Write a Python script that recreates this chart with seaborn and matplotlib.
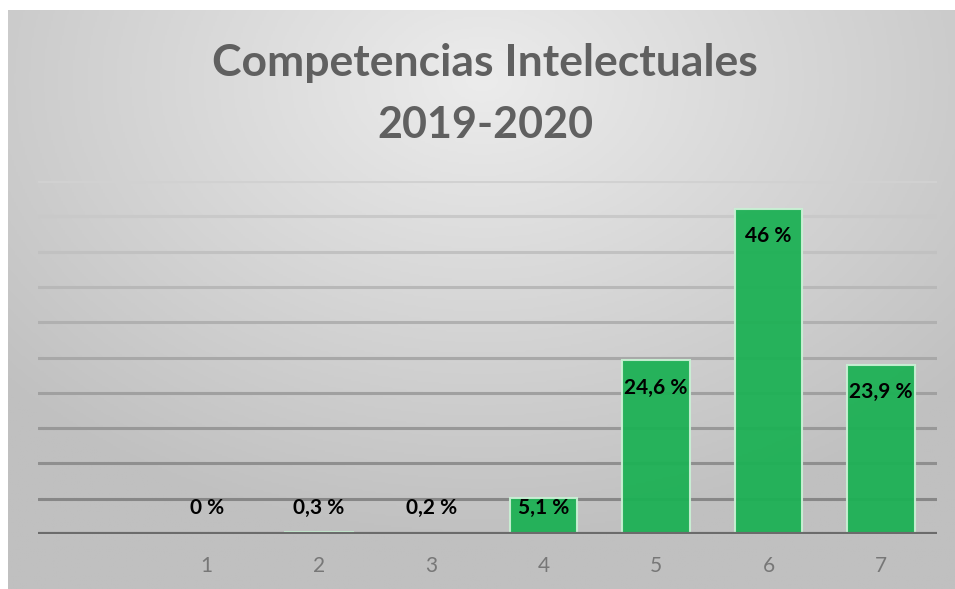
import numpy as np
import pandas as pd
import seaborn as sns
import matplotlib.pyplot as plt
from matplotlib.colors import LinearSegmentedColormap

# data
categorias = ["", "1", "2", "3", "4", "5", "6", "7"]
porcentajes = [np.nan, 0, 0.3, 0.2, 5.1, 24.6, 46, 23.9]
etiquetas = ["", "0 %", "0,3 %", "0,2 %", "5,1 %", "24,6 %", "46 %", "23,9 %"]
lineas_y = [5, 10, 15, 20, 25, 30, 35, 40, 45, 50]

df = pd.DataFrame({"cat": categorias, "pct": porcentajes})

sns.set_style("white")
plt.rcParams["font.family"] = ["Lato", "DejaVu Sans"]

fig = plt.figure(figsize=(9.55, 5.89), dpi=100)
fig.patch.set_facecolor("white")

# fondo con degradado radial
bg = fig.add_axes([8 / 955, 0, 947 / 955, 579 / 589])
yy, xx = np.mgrid[0:1:300j, 0:1:500j]
r = np.sqrt(((xx - 0.5) / 0.85) ** 2 + ((yy - 0.12) / 1.0) ** 2)
cmap_bg = LinearSegmentedColormap.from_list("bg", ["#ececec", "#d6d6d6", "#c0c0c0"])
bg.imshow(r, cmap=cmap_bg, aspect="auto", extent=[0, 1, 1, 0], vmin=0, vmax=0.8)
bg.axis("off")

ax = fig.add_axes([38 / 955, (589 - 534) / 589, 899 / 955, 353 / 589])
ax.patch.set_alpha(0)

# lineas de cuadricula, mas oscuras hacia abajo
for i, v in enumerate(lineas_y):
    t = i / (len(lineas_y) - 1)
    g = 0.53 + 0.29 * t
    ax.axhline(v, color=(g, g, g), lw=2.2, zorder=0)

sns.barplot(data=df, x="cat", y="pct", order=categorias, color="#1db155",
            width=0.6, saturation=1, edgecolor="#c9f0d4", linewidth=1.5,
            alpha=0.95, ax=ax, zorder=2)

for i, (v, lab) in enumerate(zip(porcentajes, etiquetas)):
    if np.isnan(v):
        continue
    ax.text(i, max(v - 3.85, 3.7), lab, ha="center", va="center",
            fontsize=15, fontweight="bold", color="black", zorder=3)

ax.axhline(0, color="#6b6b6b", lw=3, zorder=4)
ax.set_xlim(-0.5, 7.5)
ax.set_ylim(0, 50)
ax.set_yticks([])
ax.set_xlabel("")
ax.set_ylabel("")
ax.tick_params(axis="x", length=0, pad=16, labelsize=15, labelcolor="#777777")
for s in ax.spines.values():
    s.set_visible(False)

fig.text(0.508, 1 - 63 / 589, "Competencias Intelectuales", ha="center", va="center",
         fontsize=32, fontweight="bold", color="#606060")
fig.text(0.508, 1 - 125 / 589, "2019-2020", ha="center", va="center",
         fontsize=31, fontweight="bold", color="#606060")

fig.savefig("out.png", dpi=100)
